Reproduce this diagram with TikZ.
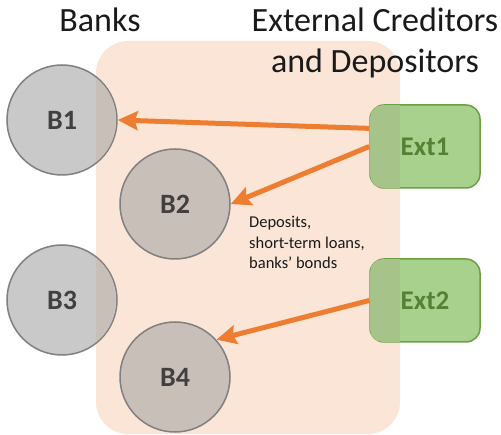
\documentclass[tikz,border=0pt]{standalone}
\usepackage{fontspec}
\setmainfont{Carlito}
\usetikzlibrary{arrows.meta,calc}
\definecolor{peach}{HTML}{FBE5D6}
\definecolor{bankfill}{HTML}{C9C9C9}
\definecolor{banktint}{HTML}{C8BFB9}
\definecolor{bankline}{HTML}{808080}
\definecolor{extfill}{HTML}{A9D18E}
\definecolor{exttint}{HTML}{A6C48A}
\definecolor{extline}{HTML}{6A9F47}
\definecolor{exttext}{HTML}{548235}
\definecolor{flow}{HTML}{ED7D31}
\definecolor{ink}{HTML}{404040}
\definecolor{txt}{HTML}{1A1A1A}
\begin{document}
\begin{tikzpicture}[x=1pt,y=-1pt,
  bank/.style={circle,draw=bankline,line width=1.5pt,fill=bankfill,minimum size=110pt,inner sep=0pt,
    font=\fontsize{28}{32}\selectfont\bfseries,text=ink},
  ext/.style={rectangle,rounded corners=14pt,draw=extline,line width=1.5pt,fill=extfill,
    minimum width=110pt,minimum height=83pt,inner sep=0pt,
    font=\fontsize{27}{32}\selectfont\bfseries,text=exttext},
  flowarrow/.style={draw=flow,line width=5pt,-{Stealth[length=20pt,width=19pt,inset=3pt]}},
  title/.style={font=\fontsize{34}{40}\selectfont,text=txt,anchor=base,inner sep=0pt},
  zone/.style={rounded corners=32pt}]
\useasboundingbox (0,0) rectangle (501,435);
% market zone
\fill[peach,zone] (96,41) rectangle (400,434);
% banks
\node[bank] (b1) at (62,120) {B1};
\node[bank,fill=banktint] (b2) at (175,204) {B2};
\node[bank] (b3) at (62,300) {B3};
\node[bank,fill=banktint] (b4) at (175,377) {B4};
% external
\node[ext] (e1) at (425,146.5) {Ext1};
\node[ext] (e2) at (425,300.5) {Ext2};
% tint where the zone overlaps
\begin{scope}
  \clip[zone] (96,41) rectangle (400,434);
  \fill[banktint] (b1.center) circle (54.2pt);
  \fill[banktint] (b3.center) circle (54.2pt);
  \fill[exttint,rounded corners=13pt] ($(e1.north west)+(0.8,0.8)$) rectangle ($(e1.south east)+(-0.8,-0.8)$);
  \fill[exttint,rounded corners=13pt] ($(e2.north west)+(0.8,0.8)$) rectangle ($(e2.south east)+(-0.8,-0.8)$);
\end{scope}
% titles
\node[title] (tbanks) at (100,32) {Banks};
\node[title] (text1) at (375,32) {External Creditors};
\node[title] (text2) at (375,73) {and Depositors};
% label
\node[font=\fontsize{16.5}{20.5}\selectfont,text=txt,align=left,anchor=north west,inner sep=0pt] (lbl) at (249,216) {Deposits,\\short-term loans,\\banks’ bonds};
% flows
\draw[flowarrow] (e1.162) -- (b1.east);
\draw[flowarrow] (e1.west) -- (b2.east);
\draw[flowarrow] (e2.west) -- (b4.42);
\end{tikzpicture}
\end{document}
